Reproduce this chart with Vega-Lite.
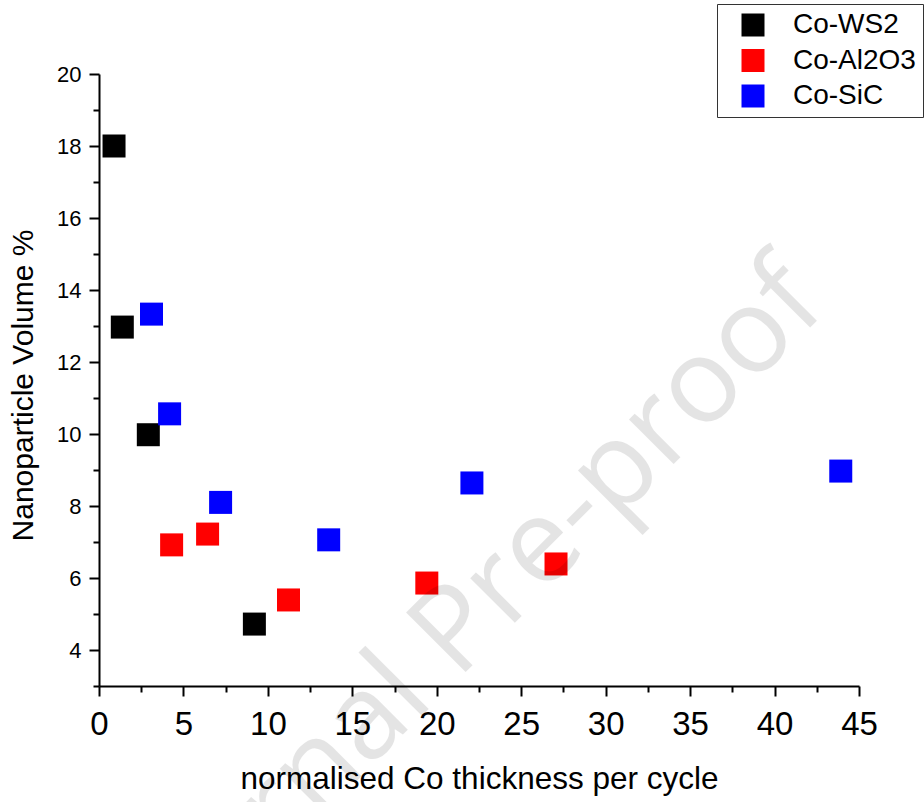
{
  "$schema": "https://vega.github.io/schema/vega-lite/v6.json",
  "width": 760,
  "height": 612,
  "autosize": {"type": "none"},
  "padding": {"left": 99, "top": 74, "right": 65, "bottom": 116},
  "background": "white",
  "config": {
    "view": {"stroke": null},
    "font": "Liberation Sans",
    "axis": {
      "grid": false,
      "domainColor": "black",
      "domainWidth": 2,
      "tickColor": "black",
      "tickWidth": 2,
      "labelColor": "black",
      "titleColor": "black",
      "labelFont": "Liberation Sans",
      "titleFont": "Liberation Sans",
      "titleFontWeight": "normal",
      "labelOverlap": false,
      "labelFlush": false
    }
  },
  "resolve": {"axis": {"y": "independent"}},
  "layer": [
    {
      "data": {
        "values": [
          {"thickness": 0.89, "volume": 18.0, "series": "Co-WS2"},
          {"thickness": 1.38, "volume": 12.97, "series": "Co-WS2"},
          {"thickness": 2.92, "volume": 9.98, "series": "Co-WS2"},
          {"thickness": 9.2, "volume": 4.72, "series": "Co-WS2"},
          {"thickness": 4.3, "volume": 6.92, "series": "Co-Al2O3"},
          {"thickness": 6.43, "volume": 7.22, "series": "Co-Al2O3"},
          {"thickness": 11.22, "volume": 5.39, "series": "Co-Al2O3"},
          {"thickness": 19.41, "volume": 5.86, "series": "Co-Al2O3"},
          {"thickness": 27.06, "volume": 6.39, "series": "Co-Al2O3"},
          {"thickness": 3.11, "volume": 13.33, "series": "Co-SiC"},
          {"thickness": 4.18, "volume": 10.56, "series": "Co-SiC"},
          {"thickness": 7.2, "volume": 8.1, "series": "Co-SiC"},
          {"thickness": 13.6, "volume": 7.06, "series": "Co-SiC"},
          {"thickness": 22.08, "volume": 8.64, "series": "Co-SiC"},
          {"thickness": 43.92, "volume": 8.97, "series": "Co-SiC"}
        ]
      },
      "mark": {"type": "point", "shape": "square", "filled": true, "size": 529, "opacity": 1, "strokeWidth": 0},
      "encoding": {
        "x": {
          "field": "thickness",
          "type": "quantitative",
          "scale": {"domain": [0, 45], "nice": false, "zero": false},
          "axis": {
            "title": "normalised Co thickness per cycle",
            "titleFontSize": 31.5,
            "titlePadding": 22,
            "labelFontSize": 33,
            "labelPadding": 12,
            "values": [0, 2.5, 5, 7.5, 10, 12.5, 15, 17.5, 20, 22.5, 25, 27.5, 30, 32.5, 35, 37.5, 40, 42.5, 45],
            "labelExpr": "datum.value % 5 === 0 ? datum.label : ''",
            "tickSize": {"condition": {"test": "datum.value % 5 === 0", "value": 10}, "value": 6}
          }
        },
        "y": {
          "field": "volume",
          "type": "quantitative",
          "scale": {"domain": [3, 20], "nice": false, "zero": false},
          "axis": {
            "orient": "left",
            "title": "Nanoparticle Volume %",
            "titleFontSize": 30,
            "titlePadding": 18,
            "titleY": 311,
            "labelFontSize": 22,
            "labelPadding": 8,
            "tickSize": 10,
            "values": [4, 6, 8, 10, 12, 14, 16, 18, 20]
          }
        },
        "color": {
          "field": "series",
          "type": "nominal",
          "scale": {"domain": ["Co-WS2", "Co-Al2O3", "Co-SiC"], "range": ["#000000", "#ff0000", "#0000ff"]},
          "legend": {
            "title": null,
            "orient": "none",
            "legendX": 618,
            "legendY": -70,
            "padding": 7,
            "strokeColor": "#333333",
            "fillColor": "white",
            "symbolType": "square",
            "symbolSize": 529,
            "symbolStrokeWidth": 0,
            "symbolOffset": 15,
            "labelOffset": 26,
            "labelFontSize": 28,
            "labelFont": "Liberation Sans",
            "labelColor": "black",
            "rowPadding": 7.5,
            "encode": {"legend": {"update": {"strokeWidth": {"value": 1.5}}}}
          }
        }
      }
    },
    {
      "data": {"values": [{"thickness": 23.4, "volume": 4.18, "text": "Journal Pre-proof"}]},
      "mark": {"type": "text", "angle": -45, "fontSize": 118, "font": "Open Sans", "align": "center", "baseline": "alphabetic", "fill": "black", "opacity": 0.1},
      "encoding": {
        "x": {"field": "thickness", "type": "quantitative"},
        "y": {
          "field": "volume",
          "type": "quantitative",
          "axis": {
            "orient": "left",
            "title": null,
            "labels": false,
            "domain": false,
            "tickSize": 6,
            "values": [3, 5, 7, 9, 11, 13, 15, 17, 19]
          }
        },
        "text": {"field": "text", "type": "nominal"}
      }
    }
  ]
}
